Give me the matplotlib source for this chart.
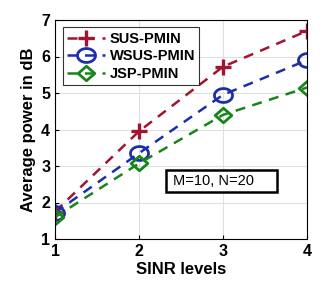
import matplotlib
matplotlib.use("Agg")
import matplotlib.pyplot as plt
import numpy as np
from matplotlib.path import Path
from matplotlib.patches import Rectangle

plt.rcParams['font.family'] = ['Liberation Sans', 'DejaVu Sans']

sinr = [1, 2, 3, 4]
sus = [1.75, 3.95, 5.72, 6.70]
wsus = [1.72, 3.35, 4.95, 5.90]
jsp = [1.60, 3.07, 4.40, 5.15]

# horizontally stretched markers (as in the reference)
t = np.linspace(0, 2 * np.pi, 60)
ellipse = Path(np.column_stack([1.3 * np.cos(t), np.sin(t)]), closed=True)
diamond = Path([(0, 1), (1.15, 0), (0, -1), (-1.15, 0), (0, 1)], closed=True)

fig = plt.figure(figsize=(3.27, 2.81), dpi=100)
ax = fig.add_axes([55/327, 1-239/281, 252/327, 219/281])

lw = 1.8
ds = (4.0, 3.0)
ax.plot(sinr, sus, '--', color='#A2142F', lw=lw, marker='+', ms=11, mew=2.4, dashes=ds, label='SUS-PMIN')
ax.plot(sinr, wsus, '--', color='#1C2FA8', lw=lw, marker=ellipse, ms=13, mew=2.0, mfc='none', dashes=ds, label='WSUS-PMIN')
ax.plot(sinr, jsp, '--', color='#17851A', lw=lw, marker=diamond, ms=12, mew=2.0, mfc='none', dashes=ds, label='JSP-PMIN')

ax.set_xlim(1, 4)
ax.set_ylim(1, 7)
ax.set_xticks([1, 2, 3, 4])
ax.set_yticks([1, 2, 3, 4, 5, 6, 7])
ax.grid(True, color='#e0e0e0', lw=0.8)
ax.tick_params(labelsize=11.5, direction='in', length=3)
for lab in ax.get_xticklabels() + ax.get_yticklabels():
    lab.set_fontweight('bold')
for s in ax.spines.values():
    s.set_linewidth(0.8)

ax.set_xlabel('SINR levels', fontsize=12, fontweight='bold', labelpad=2)
ax.set_ylabel('Average power in dB', fontsize=12, fontweight='bold', labelpad=4)

leg = ax.legend(loc='upper left', bbox_to_anchor=(0.02, 0.98),
                prop={'weight': 'bold', 'size': 10.5}, frameon=True, fancybox=False,
                edgecolor='black', handlelength=2.6, handletextpad=0.3,
                borderpad=0.3, labelspacing=0.25, borderaxespad=0.2)
leg.get_frame().set_linewidth(0.8)

ax.add_patch(Rectangle((2.32, 2.29), 1.32, 0.6, fc='white', ec='black', lw=1.8, zorder=5))
ax.text(2.40, 2.59, 'M=10, N=20', fontsize=10.5, va='center', ha='left', zorder=6)

fig.savefig('out.png', dpi=100)
